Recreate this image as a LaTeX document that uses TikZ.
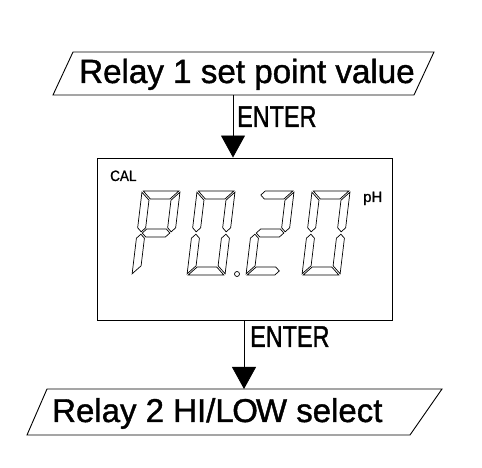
\documentclass[tikz,border=0pt]{standalone}
\usepackage{fontspec}
\usepackage{graphicx}
\setmainfont{Liberation Sans}
\newfontfamily\heavyfont{Liberation Sans}[FakeBold=1.2]
\newfontfamily\enterfont{Liberation Sans}[FakeBold=1.6]
\usetikzlibrary{arrows.meta}
\def\dW{38}
\def\dH{84}
\def\dT{8}
\def\dM{42}
\def\dg{1.2}
\tikzset{
  lcdseg/.style={draw, line width=0.7pt, line join=miter},
  frameline/.style={draw, line width=0.9pt},
  flowarrow/.style={draw, line width=0.8pt, -{Triangle[width=24pt,length=22pt]}},
  txt/.style={inner sep=0pt, anchor=base west},
}
% segments
\newcommand\lcdA{\draw[lcdseg] (\dg,\dH) -- (\dW-\dg,\dH) -- (\dW-\dT-\dg,\dH-\dT) -- (\dT+\dg,\dH-\dT) -- cycle;}
\newcommand\lcdAp{\draw[lcdseg] (\dT/2+\dg,\dH-\dT/2) -- (\dT+\dg,\dH) -- (\dW-\dg,\dH) -- (\dW-\dT-\dg,\dH-\dT) -- (\dT+\dg,\dH-\dT) -- cycle;}
\newcommand\lcdB{\draw[lcdseg] (\dW,\dH-\dg) -- (\dW,\dM+\dT/2+\dg) -- (\dW-\dT/2,\dM+\dg) -- (\dW-\dT,\dM+\dT/2+\dg) -- (\dW-\dT,\dH-\dT-\dg) -- cycle;}
\newcommand\lcdC{\draw[lcdseg] (\dW,\dg) -- (\dW,\dM-\dT/2-\dg) -- (\dW-\dT/2,\dM-\dg) -- (\dW-\dT,\dM-\dT/2-\dg) -- (\dW-\dT,\dT+\dg) -- cycle;}
\newcommand\lcdD{\draw[lcdseg] (\dg,0) -- (\dW-\dg,0) -- (\dW-\dT-\dg,\dT) -- (\dT+\dg,\dT) -- cycle;}
\newcommand\lcdDp{\draw[lcdseg] (\dg,0) -- (\dW-\dT-\dg,0) -- (\dW-\dT/2-\dg,\dT/2) -- (\dW-\dT-\dg,\dT) -- (\dT+\dg,\dT) -- cycle;}
\newcommand\lcdE{\draw[lcdseg] (0,\dg) -- (0,\dM-\dT/2-\dg) -- (\dT/2,\dM-\dg) -- (\dT,\dM-\dT/2-\dg) -- (\dT,\dT+\dg) -- cycle;}
\newcommand\lcdF{\draw[lcdseg] (0,\dH-\dg) -- (0,\dM+\dT/2+\dg) -- (\dT/2,\dM+\dg) -- (\dT,\dM+\dT/2+\dg) -- (\dT,\dH-\dT-\dg) -- cycle;}
\newcommand\lcdG{\draw[lcdseg] (\dT/2+\dg,\dM) -- (\dT+\dg,\dM+\dT/2) -- (\dW-\dT-\dg,\dM+\dT/2) -- (\dW-\dT/2-\dg,\dM) -- (\dW-\dT-\dg,\dM-\dT/2) -- (\dT+\dg,\dM-\dT/2) -- cycle;}
\begin{document}
\begin{tikzpicture}[x=1pt,y=1pt]
\useasboundingbox (0,0) rectangle (482,468);
% top parallelogram
\coordinate (t1) at (73,416);
\coordinate (t2) at (434,416);
\coordinate (t3) at (414,373);
\coordinate (t4) at (53,373);
\draw[frameline] (t1) -- (t2) -- (t3) -- (t4) -- cycle;
\node[txt] (toptext) at (79,385) {\heavyfont\fontsize{33.5}{40}\selectfont\scalebox{0.99}[1]{Relay 1 set point value}};
% display box
\node[frameline, minimum width=295pt, minimum height=162pt, inner sep=0pt] (disp) at (244.5,229) {};
% bottom parallelogram
\coordinate (b1) at (47,79);
\coordinate (b2) at (442,79);
\coordinate (b3) at (410,33);
\coordinate (b4) at (27,33);
\draw[frameline] (b1) -- (b2) -- (b3) -- (b4) -- cycle;
\node[txt] (bottext) at (52,46) {\heavyfont\fontsize{33}{40}\selectfont Relay 2 HI/L\kern-1.5pt O\kern-2pt W select};
% connectors
\coordinate (c1) at (233,373);
\draw[flowarrow] (c1) -- (c1 |- disp.north);
\coordinate (c2) at (244,79);
\draw[flowarrow] (c2 |- disp.south) -- (c2);
\node[txt] (enter1) at (237,341) {\enterfont\fontsize{30}{36}\selectfont\scalebox{0.78}[1]{ENTER}};
\node[txt] (enter2) at (250,121) {\enterfont\fontsize{30}{36}\selectfont\scalebox{0.78}[1]{ENTER}};
% display texts
\node[txt] (cal) at (110,287) {\heavyfont\fontsize{15}{18}\selectfont\scalebox{0.9}[1]{CAL}};
\node[txt] (ph) at (363,266) {\heavyfont\fontsize{15}{18}\selectfont pH};
% digits
\begin{scope}[shift={(132,193)}, xslant=0.12]
  \lcdA \lcdB \lcdE \lcdF \lcdG
\end{scope}
\begin{scope}[shift={(187,193)}, xslant=0.12]
  \lcdA \lcdB \lcdC \lcdD \lcdE \lcdF
\end{scope}
\draw[lcdseg] (237,194) circle (2.5pt);
\begin{scope}[shift={(246,193)}, xslant=0.12]
  \lcdAp \lcdB \lcdDp \lcdE \lcdG
\end{scope}
\begin{scope}[shift={(302,193)}, xslant=0.12]
  \lcdA \lcdB \lcdC \lcdD \lcdE \lcdF
\end{scope}
\end{tikzpicture}
\end{document}
